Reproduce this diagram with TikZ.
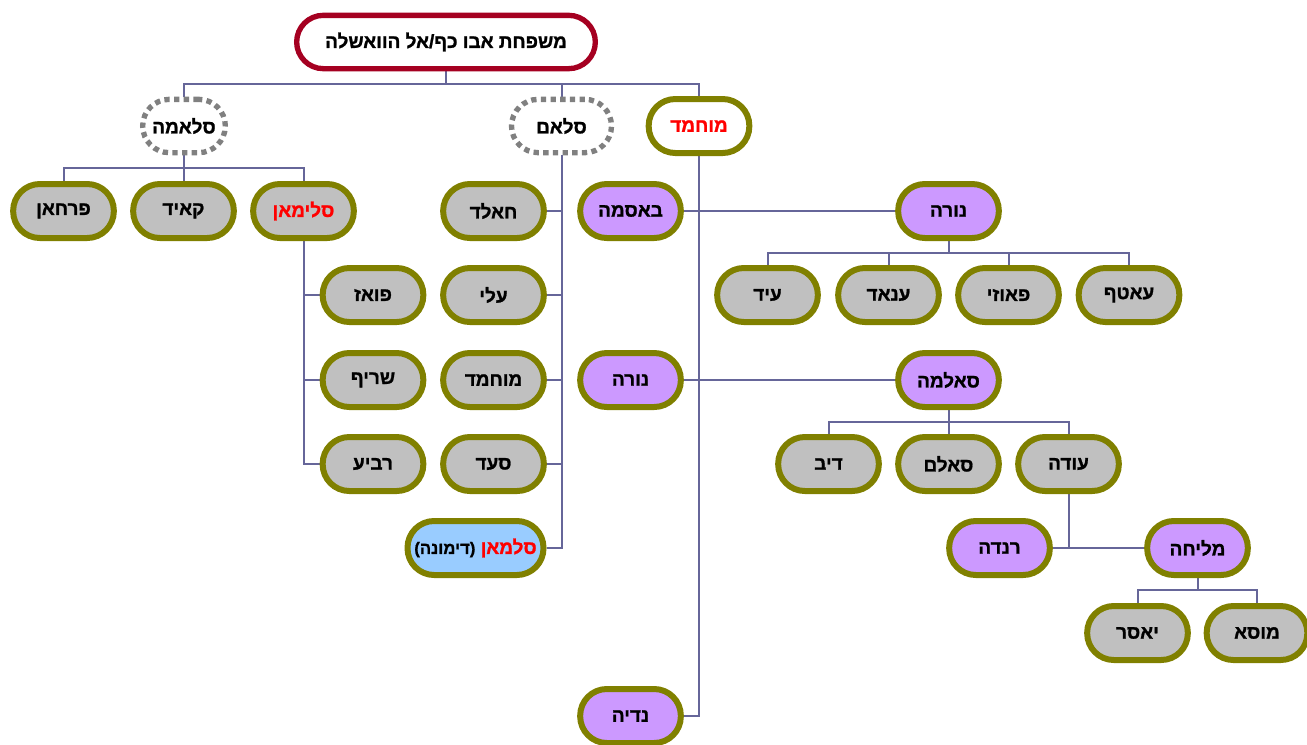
\documentclass[tikz,border=0pt]{standalone}
\usepackage{fontspec}
\setmainfont{Liberation Sans}
\newfontfamily\heb[Script=Hebrew, FakeBold=1.2]{Liberation Sans Bold}
\TeXXeTstate=1
\usetikzlibrary{backgrounds}

\definecolor{frameolive}{HTML}{808000}
\definecolor{rootred}{HTML}{A50021}
\definecolor{boxgray}{HTML}{C0C0C0}
\definecolor{boxpurple}{HTML}{CC99FF}
\definecolor{boxblue}{HTML}{99CCFF}
\definecolor{linkblue}{HTML}{666699}
\definecolor{dotgray}{HTML}{808080}
\definecolor{namered}{HTML}{FF0000}

\newcommand\rtl[1]{\beginR #1\endR}

\tikzset{
  hebfont/.style={font=\heb\fontsize{14.2}{17}\selectfont},
  person/.style={hebfont, draw=frameolive, line width=4.5pt,
    rounded corners=20pt, minimum width=75.5pt, minimum height=40.5pt,
    inner sep=0pt},
  grayp/.style={person, fill=boxgray},
  purplep/.style={person, fill=boxpurple},
  dotp/.style={hebfont, draw=dotgray, line width=4pt,
    dash pattern=on 4pt off 3.25pt, rounded corners=20pt,
    minimum height=40pt, inner sep=0pt},
  rootp/.style={hebfont, draw=rootred, line width=4pt, fill=white,
    rounded corners=20pt, minimum width=224pt, minimum height=40pt,
    inner sep=0pt},
  link/.style={draw=linkblue, line width=1.5pt},
}

\begin{document}
\begin{tikzpicture}[x=0.75pt, y=-0.75pt]
\useasboundingbox (0,0) rectangle (1307,744);

% head of the family
\node[rootp] (root) at (446,42) {\rtl{משפחת אבו כף/אל הוואשלה}};

% second generation
\node[dotp, minimum width=62pt] (salama) at (184,126) {\rtl{סלאמה}};
\node[dotp, minimum width=75pt] (salam) at (561.5,126) {\rtl{סלאם}};
\node[person, fill=white, text=namered] (moh) at (699,126) {\rtl{מוחמד}};

% children of Salama
\node[grayp] (farhan) at (63.5,211) {\rtl{פרחאן}};
\node[grayp] (qaid) at (183.5,211) {\rtl{קאיד}};
\node[grayp, text=namered] (sliman) at (303.5,211) {\rtl{סלימאן}};

% children of Sliman
\node[grayp] (fawaz) at (373,295) {\rtl{פואז}};
\node[grayp] (sharif) at (373,380) {\rtl{שריף}};
\node[grayp] (rabia) at (373,464) {\rtl{רביע}};

% children of Salam
\node[grayp] (khaled) at (493.5,211) {\rtl{חאלד}};
\node[grayp] (ali) at (493.5,295) {\rtl{עלי}};
\node[grayp] (mohd) at (493.5,380) {\rtl{מוחמד}};
\node[grayp] (saad) at (493.5,464) {\rtl{סעד}};
% two words set one by one: the place name on the left, the name on the right
\node[person, fill=boxblue, minimum width=102pt] (salman) at (475.5,548)
  {{\fontsize{12.5}{14}\selectfont\rtl{(דימונה)}} \textcolor{namered}{\rtl{סלמאן}}};

% wives of Mohammad
\node[purplep] (basma) at (630.5,211) {\rtl{באסמה}};
\node[purplep] (nora) at (630.5,380) {\rtl{נורה}};
\node[purplep] (nadia) at (630.5,716) {\rtl{נדיה}};

% Nora and her children
\node[purplep] (nora2) at (948.5,211) {\rtl{נורה}};
\node[grayp] (eid) at (767.5,295) {\rtl{עיד}};
\node[grayp] (anad) at (888.5,295) {\rtl{ענאד}};
\node[grayp] (fawzi) at (1008.5,295) {\rtl{פאוזי}};
\node[grayp] (ataf) at (1129,295) {\rtl{עאטף}};

% Salma and her children
\node[purplep] (salma) at (948.5,380) {\rtl{סאלמה}};
\node[grayp] (dib) at (828.5,464) {\rtl{דיב}};
\node[grayp] (salem) at (948.5,464) {\rtl{סאלם}};
\node[grayp] (oda) at (1068.5,464) {\rtl{עודה}};

% wives of Oda
\node[purplep] (randa) at (999.5,548) {\rtl{רנדה}};
\node[purplep] (maliha) at (1197.5,548) {\rtl{מליחה}};

% children of Maliha
\node[grayp] (yasser) at (1137.5,633) {\rtl{יאסר}};
\node[grayp] (musa) at (1257,633) {\rtl{מוסא}};

\begin{scope}[on background layer]
  % head -> second generation
  \draw[link] (root.south) -- ++(0,13) coordinate (rj);
  \draw[link] (rj) -| (salama.north);
  \draw[link] (rj) -| (salam.north);
  \draw[link] (rj) -| (moh.north);
  % Salama -> children
  \draw[link] (salama.south) -- ++(0,13) coordinate (sj);
  \draw[link] (sj) -| (farhan.north);
  \draw[link] (sj) -| (qaid.north);
  \draw[link] (sj) -| (sliman.north);
  % Sliman -> children
  \draw[link] (sliman.south) |- (fawaz.west);
  \draw[link] (sliman.south) |- (sharif.west);
  \draw[link] (sliman.south) |- (rabia.west);
  % Salam -> children
  \draw[link] (salam.south) |- (khaled.east);
  \draw[link] (salam.south) |- (ali.east);
  \draw[link] (salam.south) |- (mohd.east);
  \draw[link] (salam.south) |- (saad.east);
  \draw[link] (salam.south) |- (salman.east);
  % Mohammad -> wives
  \draw[link] (moh.south) |- (basma.east);
  \draw[link] (moh.south) |- (nora.east);
  \draw[link] (moh.south) |- (nadia.east);
  \draw[link] (basma.east) -- (nora2.west);
  \draw[link] (nora.east) -- (salma.west);
  % Nora -> children
  \draw[link] (nora2.south) -- ++(0,12) coordinate (nj);
  \draw[link] (nj) -| (eid.north);
  \draw[link] (nj) -| (anad.north);
  \draw[link] (nj) -| (fawzi.north);
  \draw[link] (nj) -| (ataf.north);
  % Salma -> children
  \draw[link] (salma.south) -- ++(0,12) coordinate (mj);
  \draw[link] (mj) -| (dib.north);
  \draw[link] (mj) -| (salem.north);
  \draw[link] (mj) -| (oda.north);
  % Oda -> wives
  \draw[link] (randa.east) -- (maliha.west);
  \draw[link] (oda.south) -- (oda.south |- randa.east);
  % Maliha -> children
  \draw[link] (maliha.south) -- ++(0,12) coordinate (lj);
  \draw[link] (lj) -| (yasser.north);
  \draw[link] (lj) -| (musa.north);
\end{scope}
\end{tikzpicture}
\end{document}
